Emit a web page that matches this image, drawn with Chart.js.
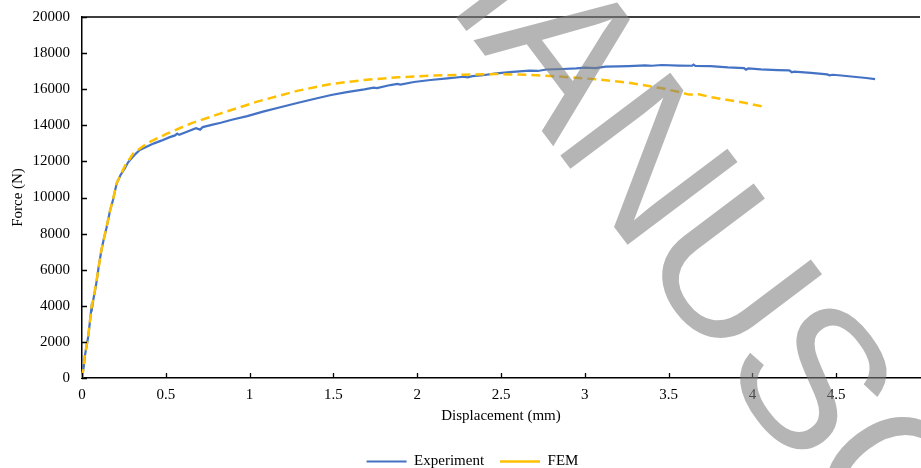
<!DOCTYPE html>
<html>
<head>
<meta charset="utf-8">
<script src="https://cdn.jsdelivr.net/npm/chart.js@4"></script>
<style>
  html, body { margin: 0; padding: 0; background: #fff; overflow: hidden; }
  #wrap { position: absolute; left: 0; top: 0; width: 928px; height: 479px; }
</style>
</head>
<body>
<div id="wrap"><canvas id="c"></canvas></div>
<script>
// ---- data ----
const expDisp = [0,0.010,0.018,0.028,0.037,0.047,0.057,0.060,0.067,0.077,0.087,0.100,0.116,0.130,0.146,0.168,0.185,0.207,0.230,0.256,0.275,0.296,0.320,0.345,0.370,0.395,0.430,0.473,0.520,0.555,0.568,0.580,0.630,0.680,0.705,0.720,0.780,0.828,0.900,0.986,1.080,1.183,1.290,1.390,1.487,1.580,1.685,1.740,1.760,1.840,1.882,1.900,1.980,2.079,2.180,2.276,2.300,2.330,2.380,2.473,2.570,2.670,2.720,2.770,2.868,2.950,3.000,3.065,3.124,3.200,3.262,3.360,3.400,3.460,3.560,3.640,3.648,3.660,3.750,3.854,3.950,3.962,3.975,4.051,4.150,4.220,4.235,4.249,4.350,4.446,4.460,4.480,4.530,4.604,4.680,4.732];
const expForce = [0,600,1270,1800,2290,3100,3950,3880,4320,4800,5340,6200,7090,7700,8310,9310,9860,10790,11250,11620,11950,12170,12420,12630,12740,12850,13000,13150,13330,13440,13540,13470,13660,13840,13760,13900,14040,14140,14320,14510,14760,15000,15250,15470,15680,15840,15990,16090,16060,16230,16290,16260,16400,16510,16600,16690,16660,16720,16760,16880,16960,17030,17010,17090,17120,17150,17190,17170,17250,17260,17280,17320,17300,17340,17310,17300,17360,17290,17280,17210,17170,17080,17150,17100,17060,17040,16940,16970,16900,16820,16770,16800,16760,16690,16620,16560];

const femDisp = [0,0.010,0.018,0.037,0.057,0.067,0.087,0.116,0.146,0.168,0.185,0.207,0.256,0.306,0.395,0.513,0.651,0.828,1.045,1.290,1.487,1.685,1.882,2.079,2.276,2.473,2.670,2.868,3.065,3.262,3.460,3.578,3.620,3.680,3.755,3.854,3.953,4.071];
const femForce = [0,700,1300,2300,3950,4350,5400,7100,8350,9300,9900,10800,11750,12450,13040,13560,14110,14660,15310,15920,16290,16510,16660,16750,16800,16840,16790,16690,16550,16360,16050,15810,15700,15720,15550,15400,15250,15030];

const seriesNames = ['Experiment', 'FEM'];
const xTicks = [0,0.5,1,1.5,2,2.5,3,3.5,4,4.5];
const yTicks = [0,2000,4000,6000,8000,10000,12000,14000,16000,18000,20000];
const xTitle = 'Displacement (mm)';
const yTitle = 'Force (N)';
const watermark = 'MANUSCRIPT';

// ---- chart ----
const toPts = (xs, ys) => xs.map((x, i) => ({x: x, y: ys[i]}));

const innerTicks = {
  id: 'innerTicks',
  afterDatasetsDraw(chart) {
    const {ctx, chartArea} = chart;
    const xs = chart.scales.x, ys = chart.scales.y;
    ctx.save();
    ctx.strokeStyle = '#000';
    ctx.lineWidth = 1.3;
    ctx.beginPath();
    ctx.moveTo(chartArea.left, chartArea.top);
    ctx.lineTo(chartArea.right, chartArea.top);
    xTicks.forEach(v => {
      const px = Math.round(xs.getPixelForValue(v)) + 0.5;
      ctx.moveTo(px, chartArea.bottom);
      ctx.lineTo(px, chartArea.bottom - 5);
    });
    yTicks.forEach(v => {
      const py = Math.round(ys.getPixelForValue(v)) + 0.5;
      ctx.moveTo(chartArea.left, py);
      ctx.lineTo(chartArea.left + 5, py);
    });
    ctx.stroke();
    ctx.restore();
  }
};

const wm = {
  id: 'watermark',
  afterDraw(chart) {
    const ctx = chart.ctx;
    ctx.save();
    ctx.translate(376, -89);
    ctx.rotate(53 * Math.PI / 180);
    ctx.font = '200px "Liberation Sans", Arial, sans-serif';
    if ('letterSpacing' in ctx) ctx.letterSpacing = '-5px';
    ctx.fillStyle = 'rgba(128,128,128,0.58)';
    ctx.textBaseline = 'alphabetic';
    ctx.textAlign = 'left';
    ctx.fillText(watermark, 0, 0);
    ctx.restore();
  }
};

Chart.defaults.font.family = '"Liberation Serif", "Times New Roman", serif';
Chart.defaults.font.size = 15;
Chart.defaults.color = '#000';

new Chart(document.getElementById('c'), {
  type: 'line',
  data: {
    datasets: [
      {
        label: seriesNames[0],
        data: toPts(expDisp, expForce),
        borderColor: '#4472C4',
        backgroundColor: '#4472C4',
        borderWidth: 2.2,
        pointRadius: 0,
        tension: 0,
        clip: 3,
        order: 2
      },
      {
        label: seriesNames[1],
        data: toPts(femDisp, femForce),
        borderColor: '#FFC000',
        backgroundColor: '#FFC000',
        borderWidth: 2.5,
        borderDash: [9, 5],
        pointRadius: 0,
        tension: 0,
        clip: 3,
        order: 1
      }
    ]
  },
  options: {
    responsive: true,
    maintainAspectRatio: false,
    animation: false,
    devicePixelRatio: 1,
    layout: { padding: { top: 17, left: 17, right: 0, bottom: 0 } },
    plugins: {
      legend: {
        position: 'bottom',
        align: 'center',
        labels: {
          usePointStyle: true,
          pointStyle: 'line',
          pointStyleWidth: 40,
          boxWidth: 40,
          padding: 16,
          color: '#000',
          font: { size: 15 },
          sort: (a, b) => a.datasetIndex - b.datasetIndex
        }
      },
      tooltip: { enabled: false }
    },
    scales: {
      x: {
        type: 'linear',
        min: 0,
        max: 5,
        afterBuildTicks(scale) { scale.ticks = xTicks.concat([5]).map(v => ({value: v})); },
        afterFit(scale) { scale.height = 60; },
        ticks: {
          autoSkip: false,
          maxRotation: 0,
          padding: 8,
          color: '#000',
          callback: (v) => (v === 5 ? '' : String(v))
        },
        grid: { display: false, drawTicks: false },
        border: { display: true, color: '#000', width: 1.5 },
        title: { display: true, text: xTitle, color: '#000', font: { size: 15 }, padding: { top: 0, bottom: 13 } }
      },
      y: {
        type: 'linear',
        min: 0,
        max: 20000,
        afterBuildTicks(scale) { scale.ticks = yTicks.map(v => ({value: v})); },
        afterFit(scale) { scale.width = 65; scale.paddingTop = 0; scale.paddingBottom = 0; },
        ticks: {
          padding: 12,
          color: '#000',
          callback: (v) => String(v)
        },
        grid: { display: false, drawTicks: false },
        border: { display: true, color: '#000', width: 1.5 },
        title: { display: true, text: yTitle, color: '#000', font: { size: 15 }, padding: { top: -8, bottom: 0 } }
      }
    }
  },
  plugins: [innerTicks, wm]
});
</script>
</body>
</html>
